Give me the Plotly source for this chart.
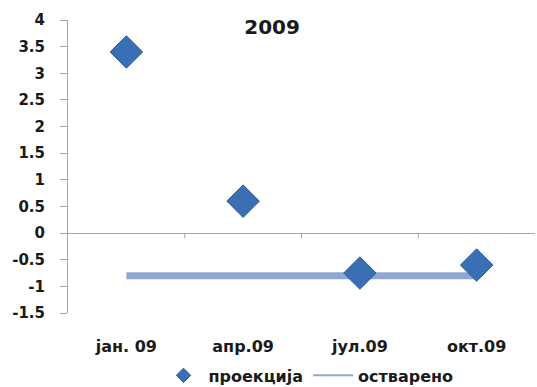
import plotly.graph_objects as go

categories = ["јан. 09", "апр.09", "јул.09", "окт.09"]
projekcija = [3.4, 0.6, -0.75, -0.6]
ostvareno = [-0.8, -0.8, -0.8, -0.8]
y_ticks = [4, 3.5, 3, 2.5, 2, 1.5, 1, 0.5, 0, -0.5, -1, -1.5]
y_labels = ["4", "3.5", "3", "2.5", "2", "1.5", "1", "0.5", "0", "-0.5", "-1", "-1.5"]

font_family = "DejaVu Sans"
line_color = "#8fa8cf"
marker_color = "#3b6fb3"
marker_edge = "#2c5a96"

fig = go.Figure()
fig.add_trace(go.Scatter(
    x=categories, y=ostvareno, mode="lines", name="остварено",
    line=dict(color=line_color, width=7), showlegend=False,
))
fig.add_trace(go.Scatter(
    x=categories, y=projekcija, mode="markers", name="проекција",
    marker=dict(symbol="diamond", size=25, color=marker_color,
                line=dict(color=marker_edge, width=1)),
    showlegend=False,
))
# legend entries (smaller samples, as in the reference)
fig.add_trace(go.Scatter(
    x=[None], y=[None], mode="markers", name="<b>проекција</b>",
    marker=dict(symbol="diamond", size=11, color=marker_color,
                line=dict(color=marker_edge, width=1)),
    legendrank=1,
))
fig.add_trace(go.Scatter(
    x=[None], y=[None], mode="lines", name="<b>остварено</b>",
    line=dict(color=line_color, width=2), legendrank=2,
))

# small tick marks on the zero line at category boundaries
for b in [0.5, 1.5, 2.5]:
    fig.add_shape(type="line", xref="x", yref="y", x0=b, x1=b, y0=0, y1=-0.1,
                  line=dict(color="#a6a6a6", width=1))

fig.update_layout(
    width=537, height=387,
    margin=dict(l=68, r=2, t=20, b=74, autoexpand=False),
    paper_bgcolor="white", plot_bgcolor="white",
    font=dict(family=font_family, color="#1a1a1a"),
    title=dict(text="<b>2009</b>", x=0.437, xref="paper", xanchor="center",
               y=0.93, yref="container", yanchor="middle",
               font=dict(size=20, family=font_family, color="#1a1a1a")),
    showlegend=True,
    legend=dict(orientation="h", x=0.515, xref="paper", xanchor="center",
                y=-0.155, yref="paper", yanchor="top",
                font=dict(size=16, family=font_family, color="#1a1a1a"),
                itemwidth=40),
    xaxis=dict(type="category", categoryorder="array", categoryarray=categories,
               range=[-0.5, 3.5], showgrid=False, showline=False, zeroline=False,
               ticks="", tickfont=dict(size=16, family=font_family),
               ticklabelstandoff=22, automargin=False,
               tickvals=categories, ticktext=[f"<b>{c}</b>" for c in categories]),
    yaxis=dict(range=[-1.5, 4], tickvals=y_ticks, automargin=False,
               ticktext=[f"<b>{t}</b>" for t in y_labels],
               showgrid=False, showline=True, linecolor="#a6a6a6", linewidth=1,
               ticks="outside", ticklen=7, tickcolor="#a6a6a6",
               zeroline=True, zerolinecolor="#a6a6a6", zerolinewidth=1,
               tickfont=dict(size=15, family=font_family), ticklabelstandoff=12),
)

fig.write_html("out.html")
